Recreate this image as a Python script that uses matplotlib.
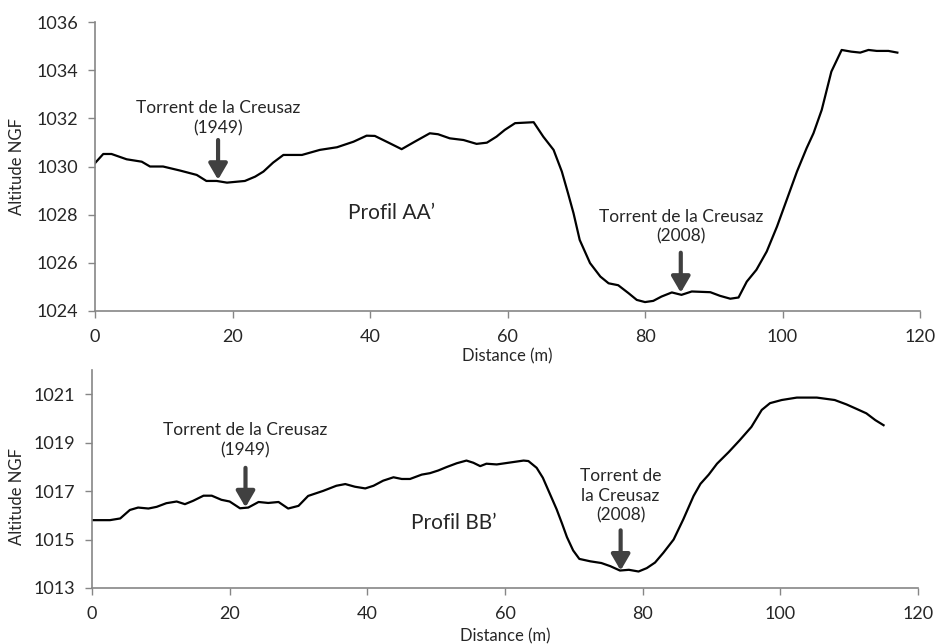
import matplotlib
matplotlib.use("Agg")
import matplotlib.pyplot as plt

plt.rcParams['font.family'] = ['Lato', 'DejaVu Sans']

# --- Profil AA' (haut) ---
dist_aa = [0, 1.2, 2.4, 4.6, 6.8, 8.0, 9.9, 12.4, 14.8, 16.2, 17.7, 19.2, 21.8, 23.3,
           24.5, 25.9, 27.4, 30.1, 32.7, 35.2, 37.6, 39.5, 40.7, 42.7, 44.6, 46.5, 48.7,
           49.9, 51.6, 53.6, 55.5, 57.0, 58.4, 59.6, 61.1, 63.8, 65.2, 66.7, 67.9, 68.8,
           69.6, 70.5, 72.0, 73.5, 74.7, 76.1, 77.6, 78.8, 80.0, 81.2, 82.4, 83.9, 85.3,
           86.8, 89.5, 90.9, 92.4, 93.6, 94.8, 96.2, 97.7, 99.2, 100.6, 102.1, 103.5,
           104.5, 105.7, 107.1, 108.6, 110.0, 111.3, 112.5, 113.7, 115.4, 116.7]
alt_aa = [1030.14, 1030.52, 1030.52, 1030.30, 1030.20, 1030.00, 1030.00, 1029.83, 1029.65,
          1029.40, 1029.40, 1029.33, 1029.40, 1029.58, 1029.79, 1030.16, 1030.48, 1030.48,
          1030.69, 1030.80, 1031.03, 1031.28, 1031.27, 1030.99, 1030.72, 1031.03, 1031.38,
          1031.34, 1031.17, 1031.10, 1030.94, 1030.99, 1031.24, 1031.52, 1031.80, 1031.84,
          1031.24, 1030.69, 1029.79, 1028.89, 1028.06, 1026.95, 1025.99, 1025.43, 1025.15,
          1025.07, 1024.74, 1024.46, 1024.37, 1024.42, 1024.60, 1024.77, 1024.67, 1024.81,
          1024.78, 1024.63, 1024.51, 1024.56, 1025.22, 1025.71, 1026.47, 1027.51, 1028.61,
          1029.79, 1030.76, 1031.38, 1032.35, 1033.94, 1034.84, 1034.77, 1034.73, 1034.84,
          1034.80, 1034.80, 1034.73]

# --- Profil BB' (bas) ---
dist_bb = [0, 2.6, 4.1, 5.5, 6.7, 8.2, 9.4, 10.8, 12.3, 13.5, 14.7, 16.2, 17.4, 18.8, 20.0,
           21.5, 22.7, 24.2, 25.6, 27.1, 28.5, 30.0, 31.4, 33.6, 35.5, 36.8, 38.2, 39.7,
           40.9, 42.3, 43.8, 45.0, 46.2, 47.9, 49.1, 50.3, 51.5, 53.0, 54.4, 55.4, 56.4,
           57.3, 58.8, 60.5, 62.7, 63.4, 64.6, 65.5, 66.5, 67.5, 68.3, 69.0, 69.9, 70.8,
           72.4, 74.0, 75.3, 76.7, 78.0, 79.4, 80.6, 81.8, 83.0, 84.5, 85.9, 87.4, 88.4,
           89.6, 90.8, 92.5, 94.1, 95.8, 97.3, 98.5, 100.2, 102.4, 105.3, 107.9, 109.6,
           111.1, 112.5, 113.8, 115.0]
alt_bb = [1015.80, 1015.80, 1015.87, 1016.22, 1016.32, 1016.28, 1016.35, 1016.50, 1016.57,
          1016.46, 1016.60, 1016.81, 1016.81, 1016.64, 1016.57, 1016.29, 1016.32, 1016.55,
          1016.51, 1016.55, 1016.28, 1016.39, 1016.80, 1017.01, 1017.22, 1017.29, 1017.18,
          1017.11, 1017.22, 1017.43, 1017.57, 1017.50, 1017.50, 1017.68, 1017.74, 1017.85,
          1017.99, 1018.15, 1018.26, 1018.17, 1018.03, 1018.13, 1018.10, 1018.17, 1018.26,
          1018.24, 1017.96, 1017.55, 1016.90, 1016.25, 1015.65, 1015.10, 1014.55, 1014.20,
          1014.10, 1014.03, 1013.90, 1013.72, 1013.75, 1013.68, 1013.82, 1014.05, 1014.45,
          1015.00, 1015.83, 1016.80, 1017.30, 1017.68, 1018.13, 1018.61, 1019.10, 1019.65,
          1020.35, 1020.63, 1020.76, 1020.86, 1020.86, 1020.76, 1020.58, 1020.39, 1020.21,
          1019.93, 1019.72]

x_ticks = [0, 20, 40, 60, 80, 100, 120]
y_ticks_aa = [1024, 1026, 1028, 1030, 1032, 1034, 1036]
y_ticks_bb = [1013, 1015, 1017, 1019, 1021]

# annotations: (texte, x, y texte, queue flèche, pointe flèche)
notes_aa = [("Torrent de la Creusaz\n(1949)", 17.9, 1032.0, 1031.1, 1029.45),
            ("Torrent de la Creusaz\n(2008)", 85.2, 1027.5, 1026.42, 1024.76)]
notes_bb = [("Torrent de la Creusaz\n(1949)", 22.3, 1019.1, 1017.96, 1016.33),
            ("Torrent de\nla Creusaz\n(2008)", 76.8, 1016.8, 1015.38, 1013.72)]

GREY = '#868686'
ARROW = '#404040'
TXT = '#262626'

fig = plt.figure(figsize=(9.35, 6.44), dpi=100)
ax1 = fig.add_axes([0.1016, 0.5171, 0.8824, 0.4487])
ax2 = fig.add_axes([0.0984, 0.0870, 0.8834, 0.3385])


def style(ax, yticks, ylim):
    ax.set_xlim(0, 120)
    ax.set_ylim(*ylim)
    ax.set_xticks(x_ticks)
    ax.set_yticks(yticks)
    for s in ['top', 'right']:
        ax.spines[s].set_visible(False)
    for s in ['left', 'bottom']:
        ax.spines[s].set_color(GREY)
        ax.spines[s].set_linewidth(1.2)
    ax.tick_params(axis='both', colors=GREY, labelcolor=TXT, labelsize=13,
                   length=5, width=1.0, direction='out')
    ax.tick_params(axis='x', pad=8)
    ax.tick_params(axis='y', pad=7)
    ax.set_xlabel('Distance (m)', fontsize=12, color=TXT)
    ax.set_ylabel('Altitude NGF', fontsize=12, color=TXT)


def notes(ax, items):
    for txt, x, ytxt, ytail, ytip in items:
        ax.text(x, ytxt, txt, ha='center', va='center', fontsize=12.5,
                color=TXT, linespacing=1.3)
        ax.annotate('', xy=(x, ytip), xytext=(x, ytail),
                    arrowprops=dict(arrowstyle='-|>,head_width=0.35,head_length=0.6',
                                    color=ARROW, lw=3.0, mutation_scale=16,
                                    shrinkA=0, shrinkB=0))


ax1.plot(dist_aa, alt_aa, color='black', lw=1.6)
style(ax1, y_ticks_aa, (1024, 1036))
notes(ax1, notes_aa)
ax1.text(43.2, 1028.07, 'Profil AA\u2019', ha='center', va='center', fontsize=15,
         color=TXT)
ax1.xaxis.set_label_coords(0.5, -0.128)
ax1.yaxis.set_label_coords(-0.085, 0.5)

ax2.plot(dist_bb, alt_bb, color='black', lw=1.6)
style(ax2, y_ticks_bb, (1013, 1022))
notes(ax2, notes_bb)
ax2.text(52.5, 1015.67, 'Profil BB\u2019', ha='center', va='center', fontsize=15,
         color=TXT)
ax2.xaxis.set_label_coords(0.5, -0.183)
ax2.yaxis.set_label_coords(-0.081, 0.42)

fig.savefig('out.png', dpi=100)
